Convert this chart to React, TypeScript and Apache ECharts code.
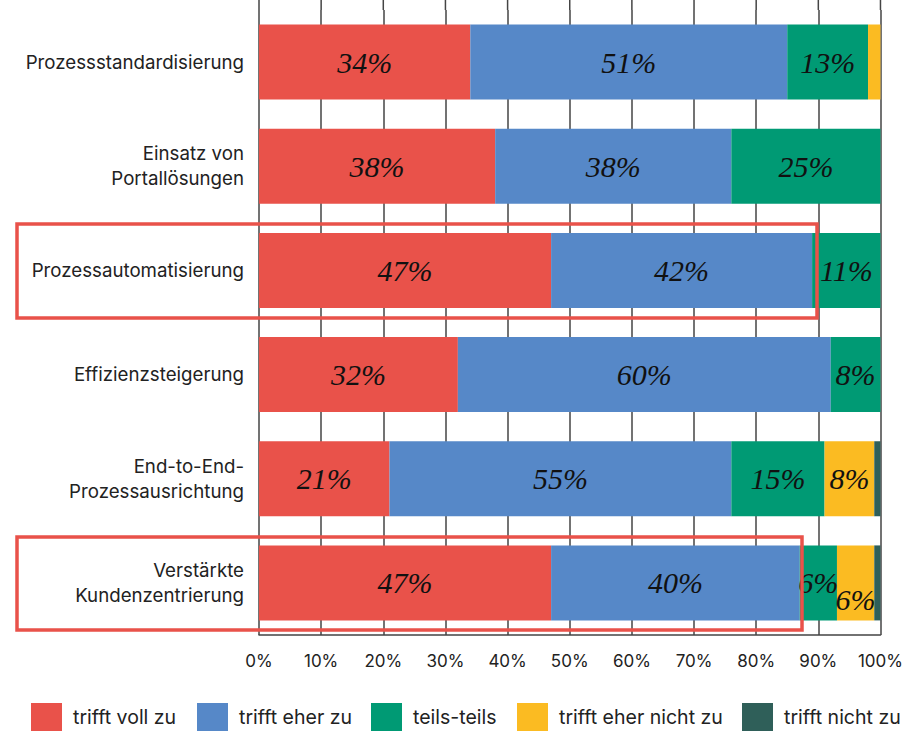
import React, { useEffect, useRef } from "react";
import * as echarts from "echarts";

const categories = [
  "Prozessstandardisierung",
  "Einsatz von\nPortallösungen",
  "Prozessautomatisierung",
  "Effizienzsteigerung",
  "End-to-End-\nProzessausrichtung",
  "Verstärkte\nKundenzentrierung",
];

const seriesNames = [
  "trifft voll zu",
  "trifft eher zu",
  "teils-teils",
  "trifft eher nicht zu",
  "trifft nicht zu",
];

const trifftVollZu = [34, 38, 47, 32, 21, 47];
const trifftEherZu = [51, 38, 42, 60, 55, 40];
const teilsTeils = [13, 25, 11, 8, 15, 6];
const trifftEherNichtZu = [2, 0, 0, 0, 8, 6];
const trifftNichtZu = [0, 0, 0, 0, 1, 1];

const xTicks = [0, 10, 20, 30, 40, 50, 60, 70, 80, 90, 100];

const colors = ["#E9524A", "#5688C8", "#009A74", "#FBBB22", "#2F5F59"];

// left edge of each legend entry
const legendLefts = [31, 197, 371, 517, 742];

const valueFont = "'Liberation Serif', 'DejaVu Serif', serif";
const sansFont = "Inter, 'Noto Sans', sans-serif";

export default function App() {
  const ref = useRef<HTMLDivElement>(null);

  useEffect(() => {
    if (!ref.current) return;
    document.body.style.margin = "0";
    document.body.style.overflow = "hidden";
    const chart = echarts.init(ref.current, undefined, { renderer: "svg" });

    const allValues = [trifftVollZu, trifftEherZu, teilsTeils, trifftEherNichtZu, trifftNichtZu];

    const series = allValues.map((vals, si) => ({
      name: seriesNames[si],
      type: "bar",
      stack: "total",
      barWidth: 75,
      itemStyle: { color: colors[si] },
      label: {
        show: true,
        position: "inside",
        fontFamily: valueFont,
        fontStyle: "italic",
        fontSize: 30,
        color: "#111",
        formatter: (p: any) => (p.value >= 5 ? `${p.value}%` : ""),
      },
      data: vals.map((v, ci) => {
        // the last row's small yellow segment carries its label slightly lower
        if (si === 3 && ci === 5) {
          return { value: v, label: { offset: [0, 17] } };
        }
        return v;
      }),
    }));

    const legends = seriesNames.map((name, i) => ({
      left: legendLefts[i],
      top: 703,
      padding: 0,
      itemWidth: 31,
      itemHeight: 28,
      icon: "rect",
      data: [name],
      selectedMode: false,
      textStyle: {
        fontFamily: sansFont,
        fontSize: 19.5,
        color: "#222",
        padding: [0, 0, 0, 6],
      },
    }));

    chart.setOption({
      animation: false,
      grid: { left: 259, right: 25, top: 10, bottom: 96, containLabel: false },
      legend: legends,
      xAxis: {
        type: "value",
        min: 0,
        max: 100,
        interval: 10,
        axisLine: { show: true, lineStyle: { color: "#444", width: 1.5 } },
        axisTick: { show: false },
        splitLine: { show: true, lineStyle: { color: "#444", width: 1.5 } },
        axisLabel: {
          fontFamily: sansFont,
          fontSize: 17,
          color: "#222",
          margin: 17,
          formatter: (v: number) => (xTicks.includes(v) ? `${v}%` : ""),
        },
      },
      yAxis: {
        type: "category",
        inverse: true,
        data: categories,
        axisLine: { show: false },
        axisTick: { show: false },
        axisLabel: {
          fontFamily: sansFont,
          fontSize: 18.7,
          color: "#222",
          lineHeight: 25,
          margin: 15,
          align: "right",
        },
      },
      series,
    });

    // extend the vertical gridlines above the plot area and frame highlighted rows
    const extras: any[] = xTicks.map((t) => {
      const x = chart.convertToPixel({ xAxisIndex: 0 }, t) as number;
      return {
        type: "line",
        shape: { x1: x, y1: 0, x2: x, y2: 10 },
        style: { stroke: "#444", lineWidth: 1.5 },
        silent: true,
      };
    });
    extras.push(
      {
        type: "rect",
        shape: { x: 17, y: 224, width: 800, height: 94 },
        style: { fill: "none", stroke: "#E9524A", lineWidth: 3.5 },
        z: 100,
      },
      {
        type: "rect",
        shape: { x: 17, y: 537, width: 785, height: 93 },
        style: { fill: "none", stroke: "#E9524A", lineWidth: 3.5 },
        z: 100,
      }
    );
    chart.setOption({ graphic: extras });

    return () => chart.dispose();
  }, []);

  return <div ref={ref} style={{ width: 906, height: 731 }} />;
}
